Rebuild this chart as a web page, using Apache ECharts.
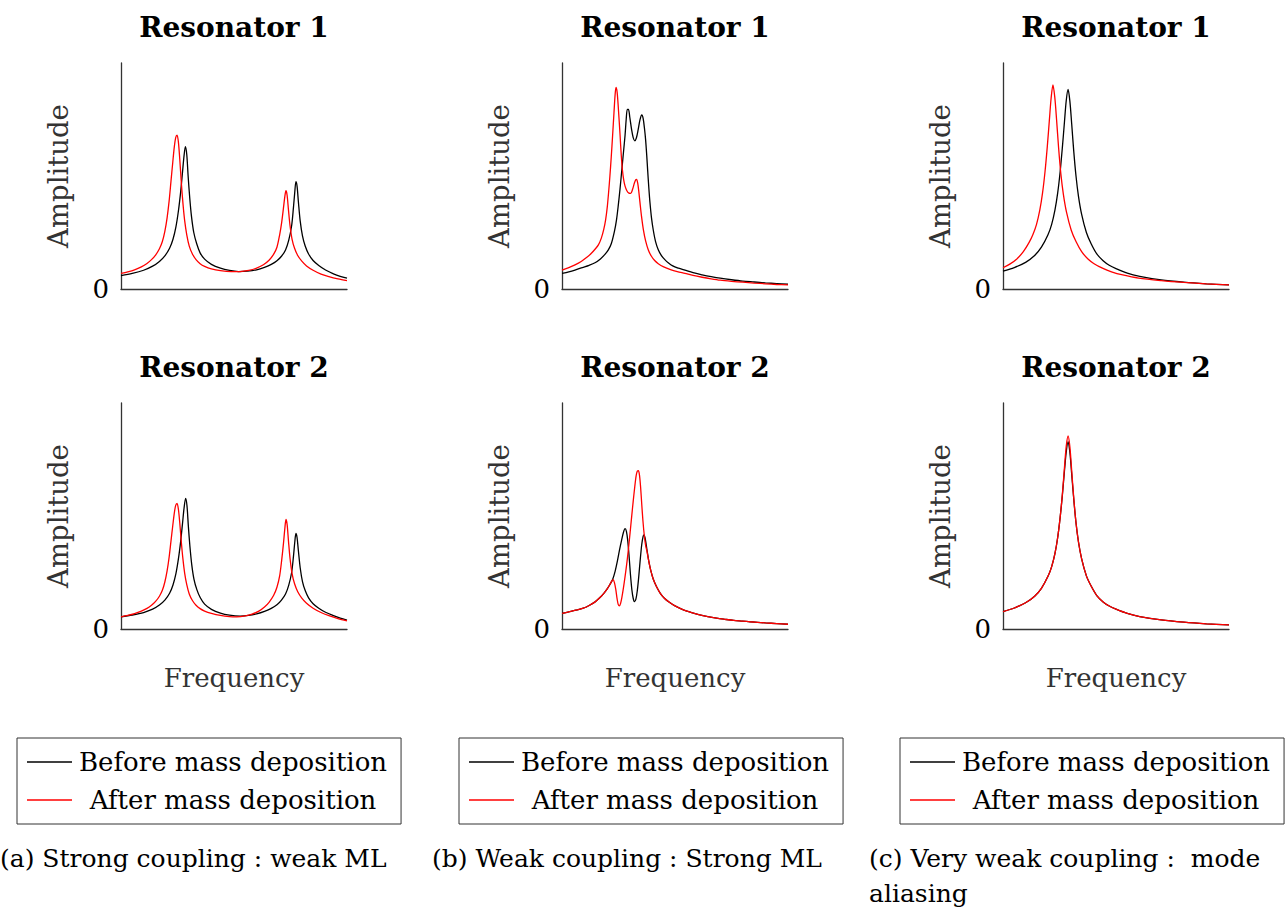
<!DOCTYPE html>
<html>
<head>
<meta charset="utf-8">
<script src="https://cdn.jsdelivr.net/npm/echarts@6/dist/echarts.min.js"></script>
<style>
html, body { margin: 0; padding: 0; background: #fff; }
#chart { width: 1285px; height: 907px; }
</style>
</head>
<body>
<div id="chart"></div>
<script>
// amplitude spectra, [frequency, amplitude] on a 0-100 scale
var strongR1Before = [[0,5.9],[5,6.9],[10,8.3],[14,10.1],[17,12.2],[19.5,14.8],[21.5,18],[23,22],[24.3,27.5],[25.4,34.5],[26.4,43],[27.2,51.5],[27.9,59],[28.5,63],[29.1,59.5],[29.7,50],[30.4,40.5],[31.2,32],[32.2,25],[33.5,20],[35,16],[37,13.2],[40,10.9],[44,9.2],[48,8.2],[52,7.7],[56,7.9],[60,8.5],[63.5,9.6],[66.5,10.9],[69,12.5],[71,14.5],[72.8,17.3],[74.2,21.5],[75.5,28],[76.3,36],[76.9,43],[77.4,47.5],[77.9,45.5],[78.5,38.5],[79.3,30],[80.3,23.5],[81.5,19],[83,15.5],[85,12.6],[87.5,10.4],[90.5,8.4],[94,6.7],[97,5.6],[100,4.8]];
var strongR1After = [[0,6.9],[3,7.6],[6,8.5],[9,9.8],[11.5,11.3],[13.5,13],[15.3,15],[17,17.8],[18.3,21],[19.4,25.5],[20.4,31.5],[21.3,39],[22.1,47.5],[22.9,56],[23.6,63],[24.2,67],[24.8,68.1],[25.4,65],[26,57.5],[26.7,47],[27.4,38],[28.2,30],[29.1,24],[30.2,19],[31.6,15.5],[33.2,13],[35,11.2],[37,10],[40,8.9],[44,8.1],[48.7,7.7],[52.7,7.7],[56.5,8.2],[60,9.2],[63,10.7],[65.5,12.7],[67.5,15.3],[69,18.5],[70.2,24],[71.1,29.5],[71.9,36],[72.5,41],[73,43.5],[73.5,41.5],[74.1,35],[74.8,28],[75.7,22],[76.8,18],[78.2,14.8],[80,12.3],[82.1,10.2],[85,8.3],[88.5,6.6],[92,5.5],[96,4.5],[100,3.7]];
var strongR2Before = [[0,5.4],[5,6.2],[10,7.3],[14,8.8],[17,10.6],[19.5,12.9],[21.5,15.8],[23,19.5],[24.3,24.5],[25.4,31],[26.4,38.8],[27.2,46.5],[27.9,53.5],[28.6,57.8],[29.2,54.5],[29.8,45.5],[30.5,36.5],[31.3,28.5],[32.3,22],[33.6,17.3],[35.1,13.8],[37,11],[40,8.7],[44,7],[48,6.1],[52.7,5.7],[56.5,6],[60,6.7],[63.5,7.8],[66.5,9.1],[69,10.7],[71,12.8],[72.8,15.5],[74.2,19.3],[75.5,25],[76.3,32],[76.9,38.5],[77.4,42.3],[77.9,40.5],[78.5,34.5],[79.3,27],[80.3,21],[81.5,17],[83,13.8],[85,11.2],[87.5,9.2],[90.5,7.4],[94,5.9],[97,4.8],[100,3.9]];
var strongR2After = [[0,5.4],[3,6],[6,6.8],[9,7.9],[11.5,9.1],[13.5,10.5],[15.3,12.2],[17,14.5],[18.3,17.1],[19.4,20.8],[20.4,25.7],[21.3,31.8],[22.1,38.8],[22.9,45.7],[23.6,51.4],[24.2,54.7],[24.8,55.6],[25.4,53],[26,47],[26.7,38.4],[27.4,31],[28.2,24.5],[29.1,19.6],[30.2,15.5],[31.6,12.6],[33.2,10.5],[35,9],[37,7.9],[40,6.9],[44,6],[48,5.5],[51.2,5.4],[55,5.8],[58,6.6],[61,7.9],[63.5,9.7],[65.5,11.8],[67.5,14.8],[69,18.5],[70.2,23.5],[71.1,30.5],[71.9,38],[72.5,44.5],[73,48.5],[73.5,46.3],[74.1,39],[74.8,31.2],[75.7,24.5],[76.8,20],[78.2,16.5],[80,13.7],[82.1,11.4],[85,9.2],[88.5,7.3],[92,5.9],[96,4.6],[100,3.6]];

var weakR1Before = [[0,6.9],[3,7.6],[5.75,8.4],[9,9.5],[12,10.5],[14.6,11.6],[17,13.3],[19,15.3],[20.5,17.3],[21.8,20],[23.2,25.5],[24.1,30.5],[24.9,37],[25.7,44.5],[26.4,52],[27.2,60.5],[27.9,68],[28.4,75],[28.9,79.5],[29.4,79.5],[30,76],[30.8,70.5],[31.5,67],[32.2,65.6],[32.9,66.8],[33.7,70.5],[34.5,74.8],[35.3,77],[35.9,75.5],[36.5,71],[37,66],[37.5,59],[37.9,52.6],[38.4,45],[38.9,38.5],[39.6,31.5],[40.4,26],[41.4,21],[42.6,17.4],[44,14.8],[45.5,13],[47,11.6],[49,10.2],[51.5,9.2],[54.4,8.3],[58,7.2],[62,6.3],[66,5.5],[70,4.8],[75,4.1],[80,3.5],[85,3.1],[90,2.7],[95,2.4],[100,2.1]];
var weakR1After = [[0,8.4],[3,9.5],[5.75,10.7],[8.5,12.2],[11,14],[13,15.8],[14.8,17.8],[16.1,19.5],[17.4,22.5],[18.5,26.5],[19.3,30.6],[20,36],[20.6,42.5],[21.2,50],[21.8,58.5],[22.4,68],[23,78],[23.5,86],[23.9,89.2],[24.4,87],[25,79],[25.7,68],[26.2,59.5],[26.7,53],[27.3,48.3],[27.9,45.5],[28.7,43.5],[29.6,42.4],[30.4,42.3],[31.2,44],[32,46.8],[32.6,48.3],[33,48.5],[33.5,46.8],[34,43],[34.5,38.3],[35.2,32],[36,26.3],[37,21.3],[38.2,17.3],[39.5,14.6],[41,12.6],[42.6,11.2],[45,9.8],[48,8.6],[51,7.7],[54.4,6.9],[58,6],[62,5.2],[66,4.5],[70,3.9],[75,3.4],[80,3],[85,2.6],[90,2.3],[95,2],[100,1.8]];
var weakR2Before = [[0,6.9],[3,7.6],[6,8.3],[9.4,9.2],[12,10.4],[14.5,11.9],[16.8,13.9],[18.5,15.8],[20,17.8],[21.2,19.7],[22.4,21.9],[23.5,25.5],[24.5,30],[25.5,35.2],[26.4,39.4],[27.2,42.8],[27.9,44.4],[28.5,43.2],[29.1,39],[29.7,32],[30.3,24],[30.9,17.5],[31.5,13.6],[32.1,12.1],[32.7,13.2],[33.3,16.8],[33.9,22.5],[34.6,30.5],[35.3,37.5],[35.9,41],[36.3,41.6],[36.9,39.6],[37.6,35],[38.4,30],[39.3,25.8],[40.4,22],[41.9,18.6],[43.5,15.8],[45.3,13.6],[47.5,11.8],[50,10.2],[53.7,8.5],[57,7.4],[60.5,6.4],[64.5,5.5],[68.4,4.8],[72,4.3],[76,3.8],[80,3.5],[83.2,3.2],[90,2.7],[95,2.4],[100,2.1]];
var weakR2After = [[0,6.9],[3,7.6],[6,8.3],[9.4,9.2],[12,10.4],[14.5,11.9],[16.8,13.9],[18.5,15.8],[20,17.8],[21.2,19.7],[22,21.2],[22.6,21.8],[23.2,20.5],[23.8,17.5],[24.4,13.2],[24.9,10.8],[25.4,10.2],[25.9,11.2],[26.5,14],[27.2,18.3],[27.9,23.2],[28.6,28.5],[29.3,34.5],[30.1,42.3],[30.8,49.5],[31.5,56.5],[32.2,63],[32.8,67.8],[33.3,69.8],[33.8,70.1],[34.3,68],[34.8,62.5],[35.3,55],[35.8,48],[36.4,41.5],[37,37],[37.6,34.3],[38.4,30],[39.3,25.8],[40.4,22],[41.9,18.6],[43.5,15.8],[45.3,13.6],[47.5,11.8],[50,10.2],[53.7,8.5],[57,7.4],[60.5,6.4],[64.5,5.5],[68.4,4.8],[72,4.3],[76,3.8],[80,3.5],[83.2,3.2],[90,2.7],[95,2.4],[100,2.1]];

var veryWeakR1Before = [[0,7.9],[5,9.5],[10,11.8],[14,14.8],[17,18.5],[19.9,24],[21.5,28.5],[23,35],[24.2,42.5],[25.3,52],[26.3,63],[27.2,74],[28,83.5],[28.8,88.3],[29.6,83],[30.4,73],[31.3,61],[32.3,50],[33.4,41],[34.8,33],[36.9,25],[39,20],[41.5,15.5],[44.3,12.5],[47,10.5],[50,9],[55,7],[60.5,5.6],[70,4],[80,3],[90,2.3],[100,1.8]];
var veryWeakR1After = [[0,9.4],[3,11],[6,13.2],[9,16.5],[11.5,20.5],[13.2,24],[14.8,28.5],[16.3,35],[17.5,42.5],[18.6,52],[19.6,63],[20.5,74.5],[21.3,84.5],[22.1,90.3],[22.9,85],[23.7,75],[24.6,62.5],[25.6,51],[26.7,42],[28.1,34],[30.2,26],[32.3,21],[34.8,16.5],[37.6,13.3],[40.3,11.2],[44,9.2],[48,7.6],[53,6.2],[60,4.8],[70,3.7],[80,2.9],[90,2.3],[100,1.8]];
var veryWeakR2Before = [[0,7.7],[5,9.3],[10,11.6],[14,14.5],[17,18],[19.9,23.3],[21.5,27.5],[23,33.5],[24.2,40.5],[25.3,49.5],[26.3,59.5],[27.2,70],[28,78.5],[28.8,82.9],[29.6,78],[30.4,68.5],[31.3,57.5],[32.3,47],[33.4,38.5],[34.8,31],[36.9,23.5],[39,19],[41.5,14.8],[44.3,12],[47,10.2],[50,8.8],[55,6.9],[60.5,5.5],[70,4],[80,3],[90,2.3],[100,1.8]];
var veryWeakR2After = [[0,7.7],[5,9.3],[10,11.6],[14,14.5],[17,18],[19.9,23.3],[21.5,27.5],[23,33.5],[24.2,40.5],[25.3,49.5],[26.3,60],[27.2,71.5],[28,81],[28.8,85.4],[29.6,80.5],[30.4,70],[31.3,58],[32.3,47],[33.4,38.5],[34.8,31],[36.9,23.5],[39,19],[41.5,14.8],[44.3,12],[47,10.2],[50,8.8],[55,6.9],[60.5,5.5],[70,4],[80,3],[90,2.3],[100,1.8]];

var panelTitles = ['Resonator 1', 'Resonator 2'];
var captions = ['(a) Strong coupling : weak ML', '(b) Weak coupling : Strong ML', '(c) Very weak coupling :  mode\naliasing'];
var seriesNames = ['Before mass deposition', 'After mass deposition'];

// row-major: top row = resonator 1, bottom row = resonator 2
var panels = [
	[strongR1Before, strongR1After], [weakR1Before, weakR1After], [veryWeakR1Before, veryWeakR1After],
	[strongR2Before, strongR2After], [weakR2Before, weakR2After], [veryWeakR2Before, veryWeakR2After]
];

var FONT = 'DejaVu Serif';
var colLeft = [121, 562, 1003];
var rowTop = [63, 403];
var SIZE = 226;

var grids = [], xAxes = [], yAxes = [], series = [], graphics = [], legends = [];

panels.forEach(function(p, i) {
	var r = Math.floor(i / 3), c = i % 3;
	grids.push({left: colLeft[c], top: rowTop[r], width: SIZE, height: SIZE});
	xAxes.push({
		type: 'value', gridIndex: i, min: 0, max: 100,
		axisLine: {show: true, lineStyle: {color: '#333', width: 1.3}},
		axisTick: {show: false}, axisLabel: {show: false}, splitLine: {show: false},
		name: r === 1 ? 'Frequency' : '', nameLocation: 'middle', nameGap: 36,
		nameTextStyle: {fontFamily: FONT, fontSize: 26, color: '#333'}
	});
	yAxes.push({
		type: 'value', gridIndex: i, min: 0, max: 100, interval: 100,
		axisLine: {show: true, lineStyle: {color: '#333', width: 1.3}},
		axisTick: {show: false}, splitLine: {show: false},
		axisLabel: {
			formatter: function(v) { return v === 0 ? '0' : ''; },
			fontFamily: FONT, fontSize: 26, color: '#000', margin: 12
		},
		name: 'Amplitude', nameLocation: 'middle', nameGap: 49, nameRotate: 90,
		nameTextStyle: {fontFamily: FONT, fontSize: 27.5, color: '#333'}
	});
	['#000000', '#ff0000'].forEach(function(col, k) {
		series.push({
			name: seriesNames[k], type: 'line', xAxisIndex: i, yAxisIndex: i,
			data: p[k], symbol: 'none', smooth: 0.3, silent: true,
			lineStyle: {color: col, width: 1.3}, itemStyle: {color: col}
		});
	});
	graphics.push({
		type: 'text', x: colLeft[c] + SIZE / 2, y: rowTop[r] - 36,
		style: {text: panelTitles[r], font: 'bold 28px "' + FONT + '"', fill: '#000', align: 'center', verticalAlign: 'middle'}
	});
});

var legendLeft = [17, 459, 900];
var captionLeft = [0, 432, 869];
legendLeft.forEach(function(lx, c) {
	legends.push({
		orient: 'vertical', left: lx, top: 738, data: seriesNames,
		icon: 'rect', itemWidth: 45, itemHeight: 1.3, itemGap: 12,
		padding: [11, 14, 11, 10], borderColor: '#333', borderWidth: 1,
		formatter: function(name) { return '{a|' + name + '}'; },
		textStyle: {
			rich: {a: {width: 312, align: 'center', fontFamily: FONT, fontSize: 26, color: '#000'}}
		}
	});
	graphics.push({
		type: 'text', x: captionLeft[c], y: 841,
		style: {text: captions[c], font: '25px "' + FONT + '"', fill: '#000', align: 'left', verticalAlign: 'top', lineHeight: 35}
	});
});

var chart = echarts.init(document.getElementById('chart'), null, {renderer: 'svg'});
chart.setOption({
	backgroundColor: '#fff',
	animation: false,
	grid: grids,
	xAxis: xAxes,
	yAxis: yAxes,
	legend: legends,
	series: series,
	graphic: graphics
});
</script>
</body>
</html>
